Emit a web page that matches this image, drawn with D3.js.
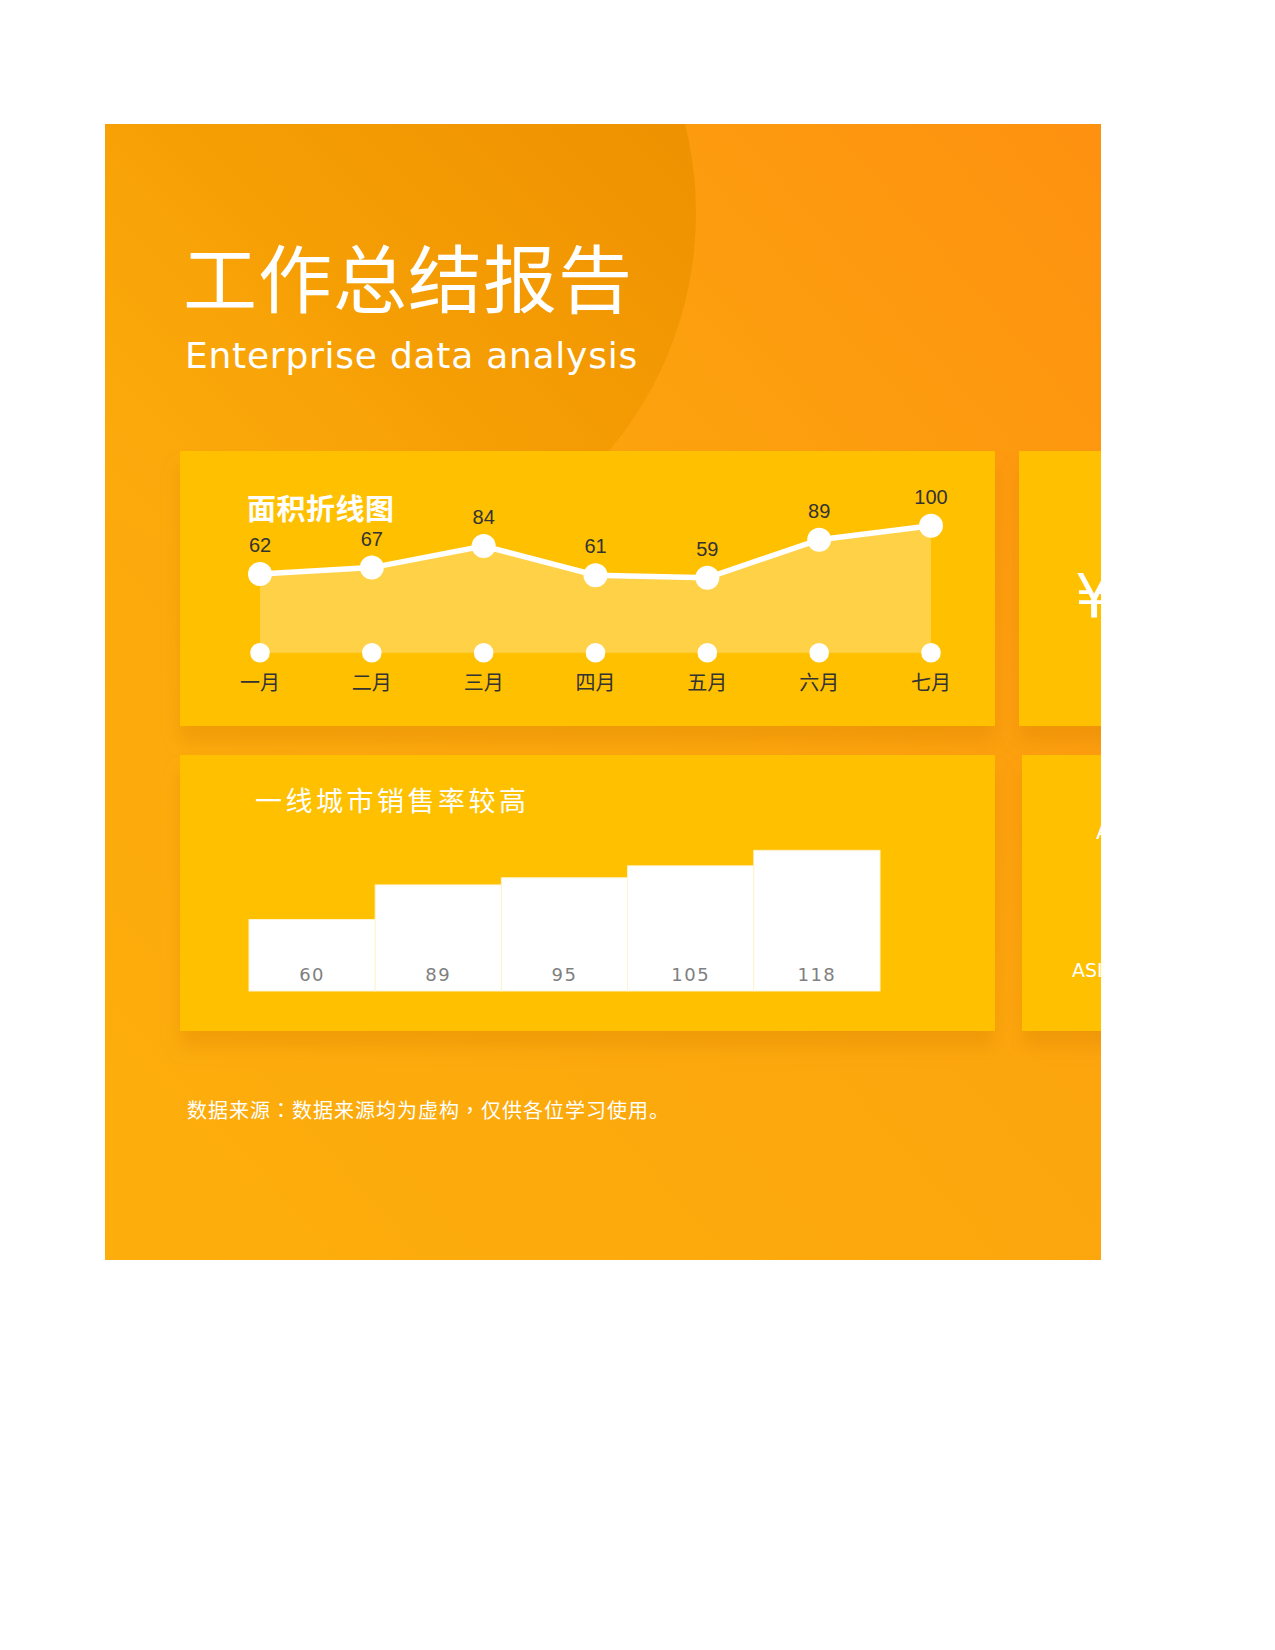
<!DOCTYPE html>
<html><head>
<meta charset="utf-8">
<title>工作总结报告</title>
<script src="https://d3js.org/d3.v7.min.js"></script>
<style>
  body { margin: 0; background: #fff; }
  svg { display: block; }
</style>
</head>
<body>
<svg id="plot" width="1275" height="1650"></svg>
<script>
// ---- data ----
const months = ["一月", "二月", "三月", "四月", "五月", "六月", "七月"];
const areaValues = [62, 67, 84, 61, 59, 89, 100];
const barLabels = ["A", "B", "C", "D", "E"];
const barValues = [60, 89, 95, 105, 118];

const svg = d3.select("svg#plot");
const cjk = "'Noto Sans CJK SC', 'DejaVu Sans', sans-serif";
const latin = "'DejaVu Sans', 'Noto Sans CJK SC', sans-serif";

const defs = svg.append("defs");

let bgGrad = defs.append("linearGradient").attr("id", "bgGrad")
  .attr("x1", 0).attr("y1", 1).attr("x2", 1).attr("y2", 0);
bgGrad.append("stop").attr("offset", "0%").attr("stop-color", "#fdae0c");
bgGrad.append("stop").attr("offset", "55%").attr("stop-color", "#fca60d");
bgGrad.append("stop").attr("offset", "100%").attr("stop-color", "#fe9110");

let circGrad = defs.append("linearGradient").attr("id", "circGrad")
  .attr("x1", 0.9).attr("y1", 0.1).attr("x2", 0.15).attr("y2", 0.85);
circGrad.append("stop").attr("offset", "0%").attr("stop-color", "#ec8e00").attr("stop-opacity", 1);
circGrad.append("stop").attr("offset", "60%").attr("stop-color", "#f49d02").attr("stop-opacity", 0.8);
circGrad.append("stop").attr("offset", "100%").attr("stop-color", "#fbad0a").attr("stop-opacity", 0.2);

defs.append("clipPath").attr("id", "bgClip")
  .append("rect").attr("x", 105).attr("y", 124).attr("width", 996).attr("height", 1136);

let shadow = defs.append("filter").attr("id", "cardShadow")
  .attr("x", "-10%").attr("y", "-10%").attr("width", "120%").attr("height", "140%");
shadow.append("feDropShadow").attr("dx", 0).attr("dy", 16).attr("stdDeviation", 9)
  .attr("flood-color", "#d98200").attr("flood-opacity", 0.35);

const page = svg.append("g").attr("clip-path", "url(#bgClip)");

page.append("rect").attr("x", 105).attr("y", 124).attr("width", 996).attr("height", 1136)
  .attr("fill", "url(#bgGrad)");
page.append("circle").attr("cx", 327).attr("cy", 213).attr("r", 369)
  .attr("fill", "url(#circGrad)");

// header
page.append("text").attr("x", 183).attr("y", 307)
  .attr("font-family", cjk).attr("font-size", 74).attr("letter-spacing", 1).attr("fill", "#fff")
  .text("工作总结报告");
page.append("text").attr("x", 185).attr("y", 368)
  .attr("font-family", latin).attr("font-size", 36).attr("letter-spacing", 0.75).attr("fill", "#fff")
  .text("Enterprise data analysis");

// cards
const cards = [
  {x: 180, y: 451, w: 815, h: 275},
  {x: 1019, y: 451, w: 400, h: 275},
  {x: 180, y: 755, w: 815, h: 276},
  {x: 1022, y: 755, w: 400, h: 276}
];
page.selectAll("rect.card").data(cards).join("rect").attr("class", "card")
  .attr("x", d => d.x).attr("y", d => d.y).attr("width", d => d.w).attr("height", d => d.h)
  .attr("fill", "#ffc000").attr("filter", "url(#cardShadow)");

// ---- area line chart ----
let x = d3.scalePoint().domain(months).range([260, 931]);
let y = d3.scaleLinear().domain([0, 100]).range([652.7, 525.7]);

let lineChart = page.append("g").attr("id", "areaChart");
lineChart.append("text").attr("x", 247).attr("y", 520)
  .attr("font-family", cjk).attr("font-weight", "bold").attr("font-size", 29)
  .attr("letter-spacing", 0.5).attr("fill", "#fff")
  .text("面积折线图");

let area = d3.area().x((d, i) => x(months[i])).y0(y(0)).y1(d => y(d));
let line = d3.line().x((d, i) => x(months[i])).y(d => y(d));

lineChart.append("path").attr("d", area(areaValues)).attr("fill", "#ffd147");
lineChart.append("path").attr("d", line(areaValues))
  .attr("fill", "none").attr("stroke", "#fff").attr("stroke-width", 5.5);

lineChart.selectAll("circle.pt").data(areaValues).join("circle").attr("class", "pt")
  .attr("cx", (d, i) => x(months[i])).attr("cy", d => y(d)).attr("r", 12).attr("fill", "#fff");
lineChart.selectAll("circle.base").data(months).join("circle").attr("class", "base")
  .attr("cx", d => x(d)).attr("cy", y(0)).attr("r", 9.8).attr("fill", "#fff");

lineChart.selectAll("text.val").data(areaValues).join("text").attr("class", "val")
  .attr("x", (d, i) => x(months[i])).attr("y", d => y(d) - 22)
  .attr("text-anchor", "middle").attr("font-family", "'Liberation Sans', Arial, sans-serif")
  .attr("font-size", 20).attr("fill", "#333")
  .text(d => d);
lineChart.selectAll("text.month").data(months).join("text").attr("class", "month")
  .attr("x", d => x(d)).attr("y", 690)
  .attr("text-anchor", "middle").attr("font-family", cjk)
  .attr("font-size", 20).attr("fill", "#333")
  .text(d => d);

// ---- bar chart ----
let bx = d3.scaleBand().domain(barLabels).range([249, 880]).padding(0);
let by = d3.scaleLinear().domain([0, 140]).range([991, 991 - 140 * 1.192]);

let barChart = page.append("g").attr("id", "barChart");
barChart.append("text").attr("x", 255).attr("y", 811)
  .attr("font-family", cjk).attr("font-size", 27).attr("letter-spacing", 3.5).attr("fill", "#fff")
  .text("一线城市销售率较高");

barChart.selectAll("rect.bar").data(barValues).join("rect").attr("class", "bar")
  .attr("x", (d, i) => bx(barLabels[i])).attr("y", d => by(d))
  .attr("width", bx.bandwidth()).attr("height", d => by(0) - by(d))
  .attr("fill", "#fff").attr("stroke", "#fff3d0").attr("stroke-width", 1);

barChart.selectAll("text.bval").data(barValues).join("text").attr("class", "bval")
  .attr("x", (d, i) => bx(barLabels[i]) + bx.bandwidth() / 2).attr("y", 980.5)
  .attr("text-anchor", "middle").attr("font-family", latin)
  .attr("font-size", 18).attr("letter-spacing", 1.5).attr("fill", "#808080")
  .text(d => d);

// ---- side cards (cut off at page edge) ----
page.append("text").attr("x", 1075).attr("y", 617)
  .attr("font-family", latin).attr("font-size", 60).attr("fill", "#fff").text("¥");
page.append("text").attr("x", 1096).attr("y", 839)
  .attr("font-family", latin).attr("font-size", 22).attr("fill", "#fff").text("A");
page.append("text").attr("x", 1072).attr("y", 977)
  .attr("font-family", latin).attr("font-size", 19).attr("fill", "#fff").text("ASIA");

// footnote (full-width punctuation drawn centred, as in the original)
const noteParts = ["数据来源", "：", "数据来源均为虚构", "，", "仅供各位学习使用。"];
page.append("text").attr("x", 187).attr("y", 1118)
  .attr("font-family", cjk).attr("font-size", 20).attr("letter-spacing", 1).attr("fill", "#fff")
  .selectAll("tspan").data(noteParts).join("tspan")
  .attr("font-family", d => (d === "：" || d === "，") ? "'Noto Sans CJK TC', sans-serif" : null)
  .text(d => d);
</script>
</body>
</html>
